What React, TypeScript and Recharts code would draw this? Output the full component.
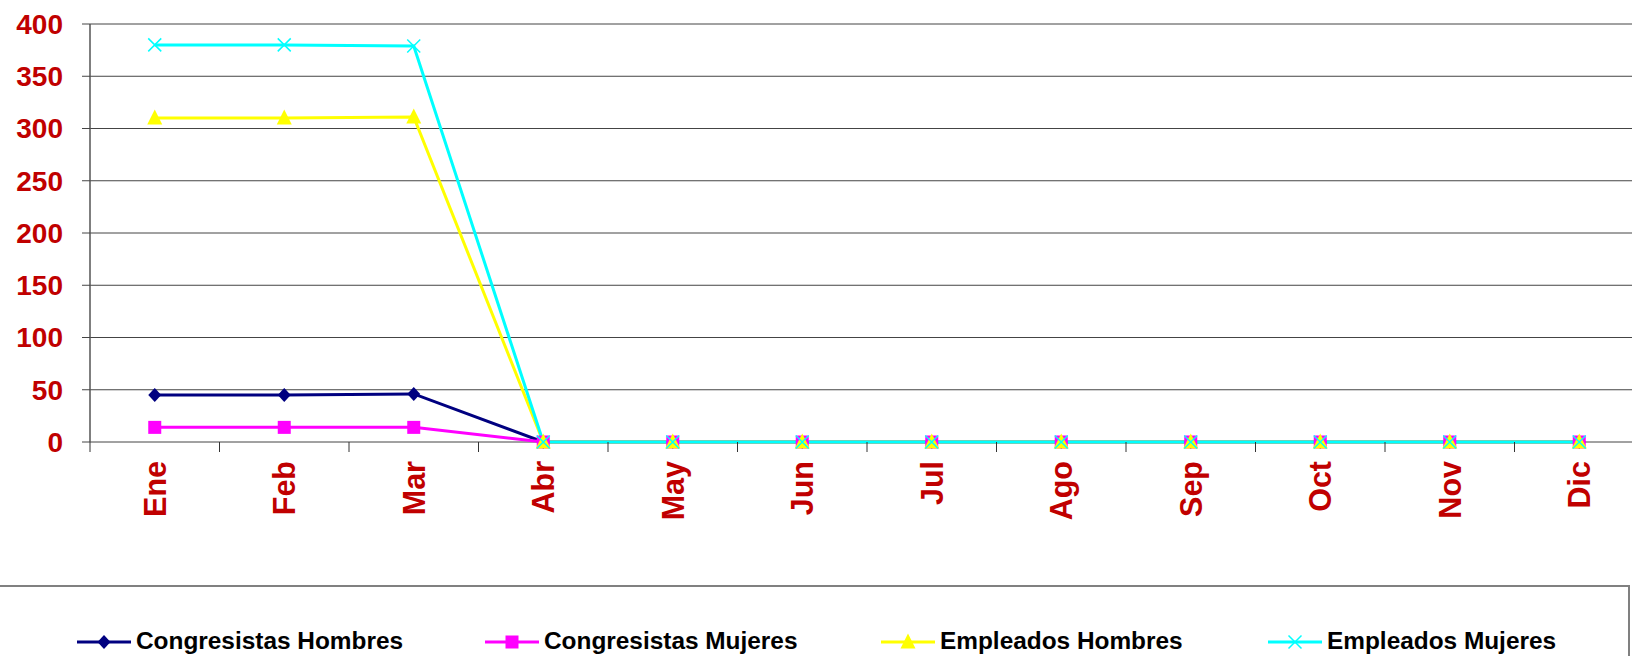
import React from "react";
import { CartesianGrid, Line, LineChart, XAxis, YAxis } from "recharts";

const months = ["Ene", "Feb", "Mar", "Abr", "May", "Jun", "Jul", "Ago", "Sep", "Oct", "Nov", "Dic"];
const congresistasHombres = [45, 45, 46, 0, 0, 0, 0, 0, 0, 0, 0, 0];
const congresistasMujeres = [14, 14, 14, 0, 0, 0, 0, 0, 0, 0, 0, 0];
const empleadosHombres = [310, 310, 311, 0, 0, 0, 0, 0, 0, 0, 0, 0];
const empleadosMujeres = [380, 380, 379, 0, 0, 0, 0, 0, 0, 0, 0, 0];
const yTicks = [0, 50, 100, 150, 200, 250, 300, 350, 400];

const data = months.map((mes, i) => ({
  mes,
  x: i + 0.5,
  ch: congresistasHombres[i],
  cm: congresistasMujeres[i],
  eh: empleadosHombres[i],
  em: empleadosMujeres[i],
}));

// ticks at category boundaries (tick marks) and centres (labels)
const xTicks: number[] = [];
for (let i = 0; i <= months.length * 2; i++) xTicks.push(i / 2);

const FONT = "Arial, 'Liberation Sans', sans-serif";
const RED = "#C00000";

const NAVY = "#000080";
const MAGENTA = "#FF00FF";
const YELLOW = "#FFFF00";
const CYAN = "#00FFFF";

type Shape = "diamond" | "square" | "triangle" | "x";

const marker = (shape: Shape, color: string, cx: number, cy: number, key?: React.Key) => {
  if (shape === "diamond")
    return <path key={key} d={`M${cx},${cy - 7}L${cx + 6.5},${cy}L${cx},${cy + 7}L${cx - 6.5},${cy}Z`} fill={color} />;
  if (shape === "square") return <rect key={key} x={cx - 6.5} y={cy - 6.5} width={13} height={13} fill={color} />;
  if (shape === "triangle")
    return <path key={key} d={`M${cx},${cy - 8.5}L${cx + 7.5},${cy + 6.5}L${cx - 7.5},${cy + 6.5}Z`} fill={color} />;
  return (
    <path
      key={key}
      d={`M${cx - 6.5},${cy - 6.5}L${cx + 6.5},${cy + 6.5}M${cx - 6.5},${cy + 6.5}L${cx + 6.5},${cy - 6.5}`}
      stroke={color}
      strokeWidth={1.5}
      fill="none"
    />
  );
};

const dotFor = (shape: Shape, color: string) => (props: any) =>
  marker(shape, color, props.cx, props.cy, `${shape}-${props.index}`);

const XTick = (props: any) => {
  const { x, y, payload } = props;
  const v = payload.value as number;
  if (Number.isInteger(v)) {
    return <line x1={x} y1={y} x2={x} y2={y + 10} stroke="#333" strokeWidth={1} />;
  }
  const label = months[Math.round(v - 0.5)];
  return (
    <g transform={`translate(${x},${y})`}>
      <text
        transform="rotate(-90)"
        x={-19}
        y={0}
        dy="0.36em"
        textAnchor="end"
        fill={RED}
        fontFamily={FONT}
        fontWeight="bold"
        fontSize={30.5}
      >
        {label}
      </text>
    </g>
  );
};

const legendItems: { name: string; color: string; shape: Shape; left: number }[] = [
  { name: "Congresistas Hombres", color: NAVY, shape: "diamond", left: 77 },
  { name: "Congresistas Mujeres", color: MAGENTA, shape: "square", left: 485 },
  { name: "Empleados Hombres", color: YELLOW, shape: "triangle", left: 881 },
  { name: "Empleados Mujeres", color: CYAN, shape: "x", left: 1268 },
];

export default function App() {
  return (
    <div
      style={{
        position: "fixed",
        top: 0,
        left: 0,
        width: 1632,
        height: 656,
        overflow: "hidden",
        background: "#fff",
      }}
    >
      <LineChart width={1660} height={656} data={data} margin={{ top: 24, right: 16, left: 0, bottom: 0 }}>
        <CartesianGrid vertical={false} stroke="#444" strokeWidth={1} />
        <XAxis
          dataKey="x"
          type="number"
          domain={[0, 12]}
          ticks={xTicks}
          interval={0}
          height={214}
          tickSize={0}
          tickMargin={0}
          tickLine={false}
          axisLine={false}
          tick={<XTick />}
        />
        <YAxis
          domain={[0, 400]}
          ticks={yTicks}
          interval={0}
          width={90}
          tickSize={8}
          tickMargin={19}
          axisLine={{ stroke: "#555", strokeWidth: 1.5 }}
          tickLine={{ stroke: "#444" }}
          tick={{ fill: RED, fontFamily: FONT, fontWeight: "bold", fontSize: 28 }}
        />
        <Line
          type="linear"
          dataKey="ch"
          stroke={NAVY}
          strokeWidth={3}
          dot={dotFor("diamond", NAVY)}
          activeDot={false}
          isAnimationActive={false}
        />
        <Line
          type="linear"
          dataKey="cm"
          stroke={MAGENTA}
          strokeWidth={3}
          dot={dotFor("square", MAGENTA)}
          activeDot={false}
          isAnimationActive={false}
        />
        <Line
          type="linear"
          dataKey="eh"
          stroke={YELLOW}
          strokeWidth={3}
          dot={dotFor("triangle", YELLOW)}
          activeDot={false}
          isAnimationActive={false}
        />
        <Line
          type="linear"
          dataKey="em"
          stroke={CYAN}
          strokeWidth={3}
          dot={dotFor("x", CYAN)}
          activeDot={false}
          isAnimationActive={false}
        />
      </LineChart>

      <div
        style={{
          position: "absolute",
          left: -10,
          top: 585,
          width: 1640,
          height: 120,
          border: "2px solid #808080",
          boxSizing: "border-box",
        }}
      />
      {legendItems.map((it) => (
        <div
          key={it.name}
          style={{
            position: "absolute",
            left: it.left,
            top: 629,
            height: 24,
            display: "flex",
            alignItems: "center",
            whiteSpace: "nowrap",
          }}
        >
          <svg width={54} height={24} style={{ display: "block" }}>
            <line x1={0} y1={13} x2={54} y2={13} stroke={it.color} strokeWidth={3} />
            {marker(it.shape, it.color, 27, 13)}
          </svg>
          <span
            style={{
              marginLeft: 5,
              fontFamily: FONT,
              fontWeight: "bold",
              fontSize: 24.4,
              lineHeight: "24px",
              color: "#000",
            }}
          >
            {it.name}
          </span>
        </div>
      ))}
    </div>
  );
}
